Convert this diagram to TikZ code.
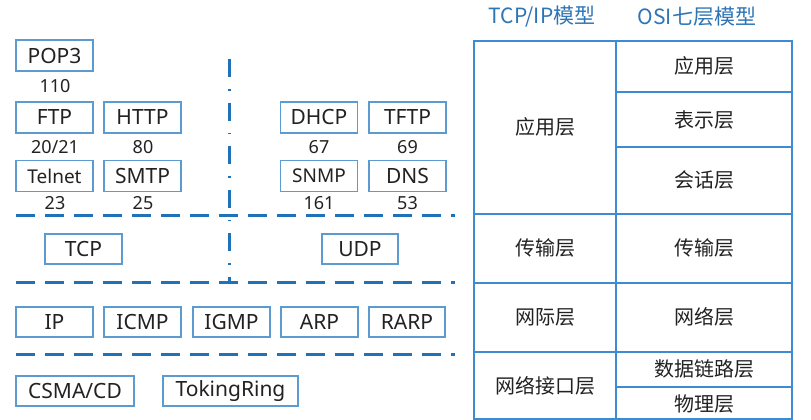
\documentclass[tikz,border=0pt]{standalone}
\usepackage{fontspec}
\setmainfont{Noto Sans}
\newfontfamily\cjk{Noto Sans CJK SC}
\definecolor{boxc}{HTML}{5B9BD0}
\definecolor{dashc}{HTML}{1F72B8}
\definecolor{tabc}{HTML}{3D8BD0}
\definecolor{headc}{HTML}{2E75B6}
\definecolor{txtc}{HTML}{222222}
\begin{document}
\begin{tikzpicture}[x=1pt,y=-1pt,
  pbox/.style={draw=boxc, line width=1.2pt, minimum width=77pt, minimum height=31pt, inner sep=0pt, text=txtc, font=\fontsize{21}{21}\selectfont},
  num/.style={text=txtc, inner sep=0pt, font=\fontsize{18}{18}\selectfont},
  sep/.style={draw=dashc, line width=3pt, dash pattern=on 19pt off 10pt},
  vsep/.style={draw=dashc, line width=3pt, dash pattern=on 18pt off 12pt on 1.5pt off 12pt},
  cell/.style={text=txtc, inner sep=0pt, font=\cjk\fontsize{20}{20}\selectfont},
  head/.style={text=headc, inner sep=0pt, font=\cjk\fontsize{21}{21}\selectfont},
  tline/.style={draw=tabc, line width=1.5pt}]
\useasboundingbox (0,0) rectangle (811,420);
\fill[white] (0,0) rectangle (811,420);
% application layer protocols
\node[pbox] (pop3) at (54.5,55.5) {POP3};
\node[num] (n110) at (55,86) {110};
\node[pbox] (ftp) at (54.5,117.5) {FTP};
\node[pbox] (http) at (142.5,117.5) {HTTP};
\node[num] (n2021) at (55,147) {20/21};
\node[num] (n80) at (143,147) {80};
\node[pbox, font=\fontsize{19}{19}\selectfont] (telnet) at (54.5,176) {Telnet};
\node[pbox] (smtp) at (142.5,176) {SMTP};
\node[num] (n23) at (55,203) {23};
\node[num] (n25) at (143,203) {25};
\node[pbox] (dhcp) at (319,117.5) {DHCP};
\node[pbox] (tftp) at (407.5,117.5) {TFTP};
\node[num] (n67) at (319,147) {67};
\node[num] (n69) at (407.5,147) {69};
\node[pbox, font=\fontsize{19}{19}\selectfont] (snmp) at (319,176) {SNMP};
\node[pbox] (dns) at (407.5,176) {DNS};
\node[num] (n161) at (319,203) {161};
\node[num] (n53) at (407.5,203) {53};
% transport
\node[pbox, minimum height=30pt] (tcp) at (83.5,249) {TCP};
\node[pbox, minimum height=30pt, minimum width=76pt] (udp) at (360,249) {UDP};
% internet
\node[pbox, minimum height=30pt] (ip) at (54.5,322) {IP};
\node[pbox, minimum height=30pt] (icmp) at (142.5,322) {ICMP};
\node[pbox, minimum height=30pt] (igmp) at (231.5,322) {IGMP};
\node[pbox, minimum height=30pt] (arp) at (319.5,322) {ARP};
\node[pbox, minimum height=30pt, minimum width=76pt] (rarp) at (407,322) {RARP};
% link
\node[pbox, minimum height=30pt, minimum width=118pt] (csma) at (75,391) {CSMA/CD};
\node[pbox, minimum height=30pt, minimum width=135pt] (token) at (230.5,391) {TokingRing};
% separators
\coordinate (s1a) at (16,215); \coordinate (s1b) at (455,215);
\coordinate (s2a) at (16,282); \coordinate (s2b) at (455,282);
\coordinate (s3a) at (16,354); \coordinate (s3b) at (455,354);
\coordinate (va) at (229,59); \coordinate (vb) at (229,283);
\draw[sep] (s1a) -- (s1b);
\draw[sep] (s2a) -- (s2b);
\draw[sep] (s3a) -- (s3b);
\draw[vsep] (va) -- (vb);
% table
\node[head] (h1) at (542,17) {TCP/IP模型};
\node[head] (h2) at (697,17) {OSI七层模型};
\coordinate (tl) at (474,41); \coordinate (tr) at (792,41);
\coordinate (bl) at (474,419); \coordinate (br) at (792,419);
\draw[tline] (tl) rectangle (br);
\draw[tline] (616,41) -- (616,419);
\draw[tline] (474,214) -- (792,214);
\draw[tline] (474,283) -- (792,283);
\draw[tline] (474,352) -- (792,352);
\draw[tline] (616,92) -- (792,92);
\draw[tline] (616,147) -- (792,147);
\draw[tline] (616,387) -- (792,387);
\node[cell] (l1) at (545,127) {应用层};
\node[cell] (l2) at (545,248) {传输层};
\node[cell] (l3) at (545,317) {网际层};
\node[cell] (l4) at (545,386) {网络接口层};
\node[cell] (r1) at (704,66) {应用层};
\node[cell] (r2) at (704,120) {表示层};
\node[cell] (r3) at (704,180) {会话层};
\node[cell] (r4) at (704,248) {传输层};
\node[cell] (r5) at (704,317) {网络层};
\node[cell] (r6) at (704,369) {数据链路层};
\node[cell] (r7) at (704,404) {物理层};
\end{tikzpicture}
\end{document}
